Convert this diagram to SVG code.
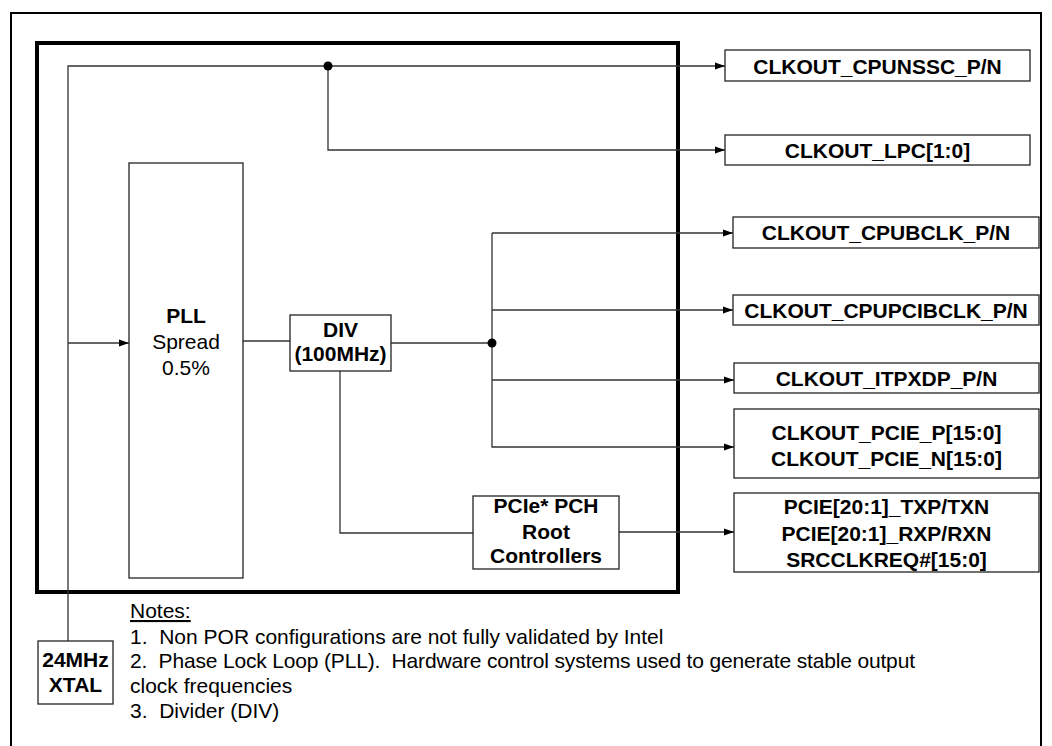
<svg xmlns="http://www.w3.org/2000/svg" width="1052" height="746" viewBox="0 0 1052 746">
<defs>
<marker id="arr" markerWidth="10" markerHeight="8" refX="10" refY="4" orient="auto" markerUnits="userSpaceOnUse">
<path d="M0,0.5 L10,4 L0,7.5 z" fill="#000"/>
</marker>
<style>
.box{fill:#fff;stroke:#222;stroke-width:1.3}
.b{font-family:"Liberation Sans",Arial,sans-serif;font-weight:bold;font-size:21px;text-anchor:middle;fill:#000}
.r{font-family:"Liberation Sans",Arial,sans-serif;font-size:21px;fill:#000}
.rc{font-family:"Liberation Sans",Arial,sans-serif;font-size:21px;text-anchor:middle;fill:#000}
.ln{fill:none;stroke:#333;stroke-width:1.3}
</style>
</defs>
<rect width="1052" height="746" fill="#fff"/>
<rect x="11" y="13" width="1030" height="735" fill="none" stroke="#000" stroke-width="2"/>
<rect id="chip" x="37" y="43" width="641" height="549" fill="none" stroke="#000" stroke-width="4"/>

<g id="connectors">
<polyline class="ln" points="68,641 68,66 725,66" marker-end="url(#arr)"/>
<polyline class="ln" points="328,66 328,150 725,150" marker-end="url(#arr)"/>
<line class="ln" x1="68" y1="343" x2="129" y2="343" marker-end="url(#arr)"/>
<line class="ln" x1="243" y1="341" x2="290" y2="341"/>
<line class="ln" x1="391" y1="343" x2="492" y2="343"/>
<polyline class="ln" points="492,233 492,447 734,447" marker-end="url(#arr)"/>
<line class="ln" x1="492" y1="233" x2="733" y2="233" marker-end="url(#arr)"/>
<line class="ln" x1="492" y1="310" x2="733" y2="310" marker-end="url(#arr)"/>
<line class="ln" x1="492" y1="380" x2="734" y2="380" marker-end="url(#arr)"/>
<polyline class="ln" points="340,371 340,533 473,533"/>
<line class="ln" x1="619" y1="532" x2="734" y2="532" marker-end="url(#arr)"/>
<circle cx="328" cy="66" r="4.5" fill="#000"/>
<circle cx="492" cy="343" r="4.5" fill="#000"/>
</g>

<g id="pll">
<rect class="box" x="129" y="163" width="114" height="415"/>
<text class="b" x="186" y="323">PLL</text>
<text class="rc" x="186" y="349">Spread</text>
<text class="rc" x="186" y="375">0.5%</text>
</g>
<g id="div">
<rect class="box" x="290" y="315" width="101" height="56"/>
<text class="b" x="340.5" y="337">DIV</text>
<text class="b" x="340.5" y="361">(100MHz)</text>
</g>
<g id="pcie_root">
<rect class="box" x="473" y="496" width="146" height="73"/>
<text class="b" x="546" y="513">PCIe* PCH</text>
<text class="b" x="546" y="539">Root</text>
<text class="b" x="546" y="563">Controllers</text>
</g>
<g id="xtal">
<rect class="box" x="38" y="641" width="75" height="63"/>
<text class="b" x="75.5" y="667">24MHz</text>
<text class="b" x="75.5" y="692">XTAL</text>
</g>

<g id="out_cpunssc">
<rect class="box" x="725" y="50" width="305" height="31"/>
<text class="b" x="877.5" y="74">CLKOUT_CPUNSSC_P/N</text>
</g>
<g id="out_lpc">
<rect class="box" x="725" y="135" width="305" height="30"/>
<text class="b" x="877.5" y="158">CLKOUT_LPC[1:0]</text>
</g>
<g id="out_cpubclk">
<rect class="box" x="733" y="217" width="306" height="31"/>
<text class="b" x="886" y="240">CLKOUT_CPUBCLK_P/N</text>
</g>
<g id="out_cpupcibclk">
<rect class="box" x="733" y="295" width="306" height="30"/>
<text class="b" x="886" y="318">CLKOUT_CPUPCIBCLK_P/N</text>
</g>
<g id="out_itpxdp">
<rect class="box" x="734" y="363" width="305" height="30"/>
<text class="b" x="886.5" y="386">CLKOUT_ITPXDP_P/N</text>
</g>
<g id="out_pcie_clk">
<rect class="box" x="734" y="409" width="305" height="69"/>
<text class="b" x="886.5" y="440">CLKOUT_PCIE_P[15:0]</text>
<text class="b" x="886.5" y="466">CLKOUT_PCIE_N[15:0]</text>
</g>
<g id="out_pcie_lanes">
<rect class="box" x="734" y="493" width="305" height="79"/>
<text class="b" x="886.5" y="514">PCIE[20:1]_TXP/TXN</text>
<text class="b" x="886.5" y="541">PCIE[20:1]_RXP/RXN</text>
<text class="b" x="886.5" y="567">SRCCLKREQ#[15:0]</text>
</g>

<g id="notes" style="white-space:pre">
<text class="r" x="130" y="618" text-decoration="underline">Notes:</text>
<text class="r" x="130" y="644" xml:space="preserve">1.  Non POR configurations are not fully validated by Intel</text>
<text class="r" x="130" y="668" xml:space="preserve" textLength="785" lengthAdjust="spacing">2.  Phase Lock Loop (PLL).  Hardware control systems used to generate stable output</text>
<text class="r" x="130" y="693">clock frequencies</text>
<text class="r" x="130" y="718" xml:space="preserve">3.  Divider (DIV)</text>
</g>
</svg>
